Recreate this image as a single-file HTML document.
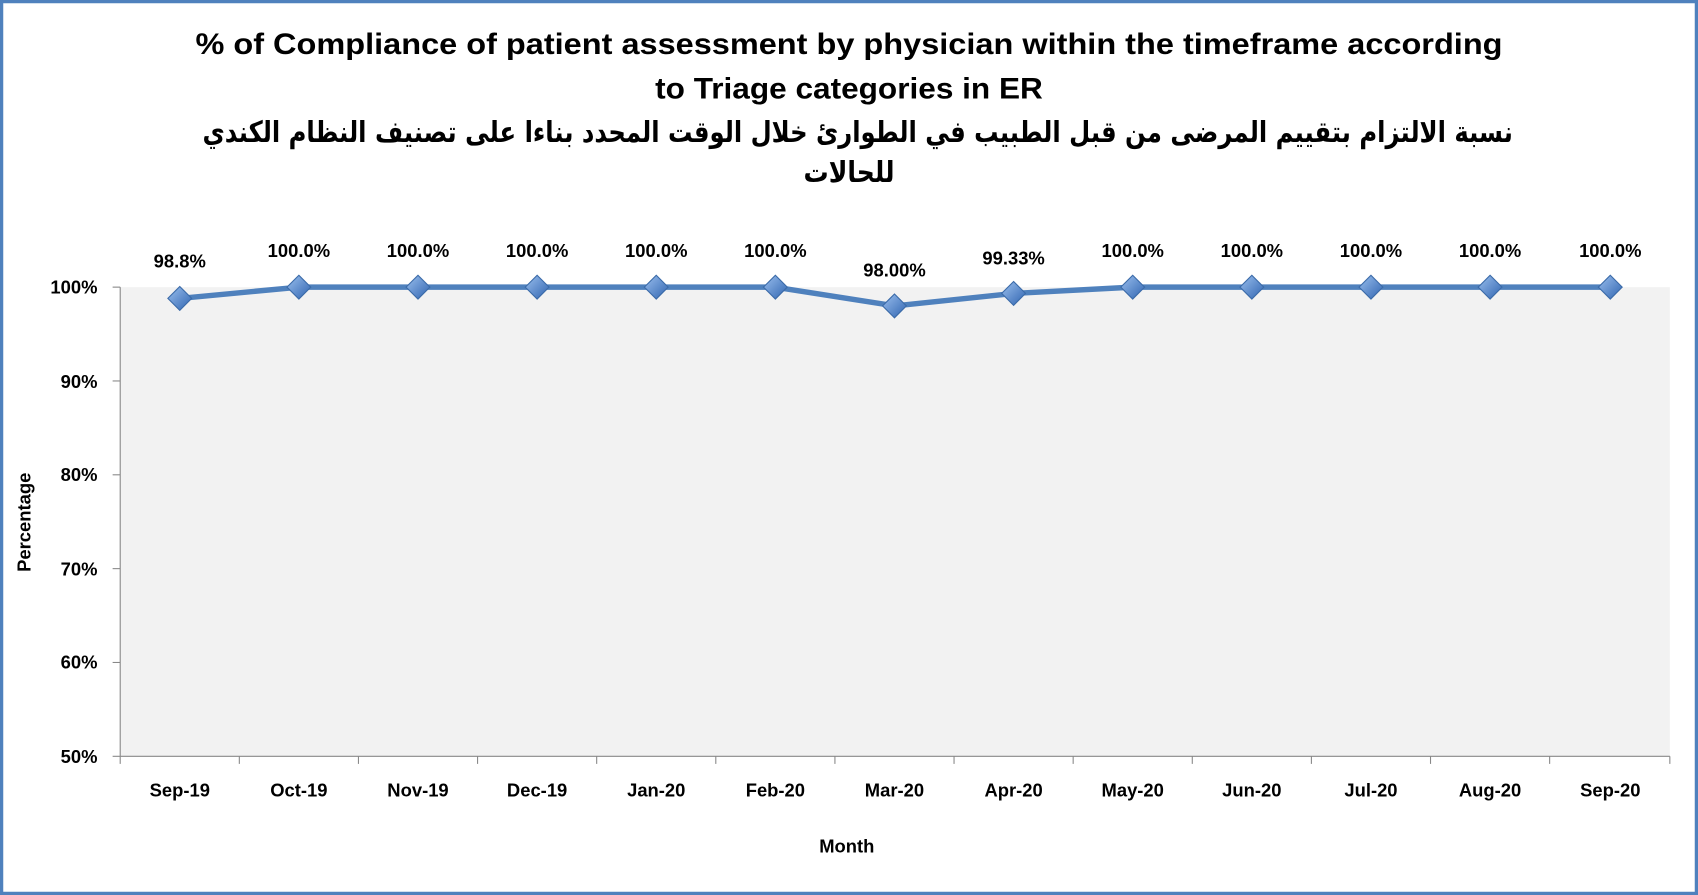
<!DOCTYPE html>
<html><head><meta charset="utf-8"><style>
html,body{margin:0;padding:0;background:#fff;}
svg{display:block;}
text{font-family:"Liberation Sans",Arial,sans-serif;font-weight:bold;fill:#000;}
</style></head><body>
<svg width="1698" height="895" viewBox="0 0 1568 826" preserveAspectRatio="none" xmlns="http://www.w3.org/2000/svg">
<defs>
<linearGradient id="mg" x1="0" y1="0" x2="1" y2="1">
<stop offset="0" stop-color="#9cc0ee"/><stop offset="1" stop-color="#2f64b0"/>
</linearGradient>
</defs>
<rect x="1.5" y="1.5" width="1565" height="823" fill="#fff" stroke="#4f81bd" stroke-width="3"/>
<text x="784" y="50" font-size="27" text-anchor="middle" textLength="1207" lengthAdjust="spacingAndGlyphs">% of Compliance of patient assessment by physician within the timeframe according</text>
<text x="784" y="91" font-size="27" text-anchor="middle" textLength="358" lengthAdjust="spacingAndGlyphs">to Triage categories in ER</text>
<text x="792" y="131" font-size="27" text-anchor="middle" direction="rtl" style="font-family:'DejaVu Sans',sans-serif" textLength="1210" lengthAdjust="spacingAndGlyphs">نسبة الالتزام بتقييم المرضى من قبل الطبيب في الطوارئ خلال الوقت المحدد بناءا على تصنيف النظام الكندي</text>
<text x="784" y="168" font-size="27" text-anchor="middle" direction="rtl" style="font-family:'DejaVu Sans',sans-serif" textLength="84" lengthAdjust="spacingAndGlyphs">للحالات</text>
<rect x="111" y="265" width="1431" height="433" fill="#f2f2f2"/>
<g stroke="#888" stroke-width="1">
<line x1="111" y1="265" x2="111" y2="698"/>
<line x1="111" y1="698" x2="1542" y2="698"/>
<line x1="104" y1="265" x2="111" y2="265"/><line x1="104" y1="351.6" x2="111" y2="351.6"/>
<line x1="104" y1="438.2" x2="111" y2="438.2"/><line x1="104" y1="524.8" x2="111" y2="524.8"/>
<line x1="104" y1="611.4" x2="111" y2="611.4"/><line x1="104" y1="698" x2="111" y2="698"/>
<line x1="111" y1="698" x2="111" y2="705"/><line x1="221" y1="698" x2="221" y2="705"/><line x1="331" y1="698" x2="331" y2="705"/><line x1="441" y1="698" x2="441" y2="705"/><line x1="551" y1="698" x2="551" y2="705"/><line x1="661" y1="698" x2="661" y2="705"/><line x1="771" y1="698" x2="771" y2="705"/><line x1="881" y1="698" x2="881" y2="705"/><line x1="991" y1="698" x2="991" y2="705"/><line x1="1101" y1="698" x2="1101" y2="705"/><line x1="1211" y1="698" x2="1211" y2="705"/><line x1="1321" y1="698" x2="1321" y2="705"/><line x1="1431" y1="698" x2="1431" y2="705"/><line x1="1542" y1="698" x2="1542" y2="705"/>
</g>
<g font-size="17" text-anchor="end">
<text x="90" y="271">100%</text><text x="90" y="358">90%</text><text x="90" y="444">80%</text>
<text x="90" y="531">70%</text><text x="90" y="617">60%</text><text x="90" y="704">50%</text>
</g>
<g font-size="17" text-anchor="middle">
<text x="166" y="735">Sep-19</text><text x="276" y="735">Oct-19</text><text x="386" y="735">Nov-19</text><text x="496" y="735">Dec-19</text><text x="606" y="735">Jan-20</text><text x="716" y="735">Feb-20</text><text x="826" y="735">Mar-20</text><text x="936" y="735">Apr-20</text><text x="1046" y="735">May-20</text><text x="1156" y="735">Jun-20</text><text x="1266" y="735">Jul-20</text><text x="1376" y="735">Aug-20</text><text x="1487" y="735">Sep-20</text>
<text x="782" y="787">Month</text>
<text x="166" y="247">98.8%</text><text x="276" y="237">100.0%</text><text x="386" y="237">100.0%</text><text x="496" y="237">100.0%</text><text x="606" y="237">100.0%</text><text x="716" y="237">100.0%</text><text x="826" y="255">98.00%</text><text x="936" y="244">99.33%</text><text x="1046" y="237">100.0%</text><text x="1156" y="237">100.0%</text><text x="1266" y="237">100.0%</text><text x="1376" y="237">100.0%</text><text x="1487" y="237">100.0%</text>
</g>
<text x="0" y="0" font-size="17" text-anchor="middle" transform="translate(28,482) rotate(-90)">Percentage</text>
<polyline fill="none" stroke="#4f81bd" stroke-width="5" stroke-linejoin="round" points="166,275.4 276,265 386,265 496,265 606,265 716,265 826,282.3 936,270.8 1046,265 1156,265 1266,265 1376,265 1487,265"/>
<g fill="url(#mg)" stroke="#3a6aa8" stroke-width="1">
<polygon points="166,264.4 177,275.4 166,286.4 155,275.4"/>
<polygon points="276,254 287,265 276,276 265,265"/>
<polygon points="386,254 397,265 386,276 375,265"/>
<polygon points="496,254 507,265 496,276 485,265"/>
<polygon points="606,254 617,265 606,276 595,265"/>
<polygon points="716,254 727,265 716,276 705,265"/>
<polygon points="826,271.3 837,282.3 826,293.3 815,282.3"/>
<polygon points="936,259.8 947,270.8 936,281.8 925,270.8"/>
<polygon points="1046,254 1057,265 1046,276 1035,265"/>
<polygon points="1156,254 1167,265 1156,276 1145,265"/>
<polygon points="1266,254 1277,265 1266,276 1255,265"/>
<polygon points="1376,254 1387,265 1376,276 1365,265"/>
<polygon points="1487,254 1498,265 1487,276 1476,265"/>
</g>
</svg>
</body></html>
